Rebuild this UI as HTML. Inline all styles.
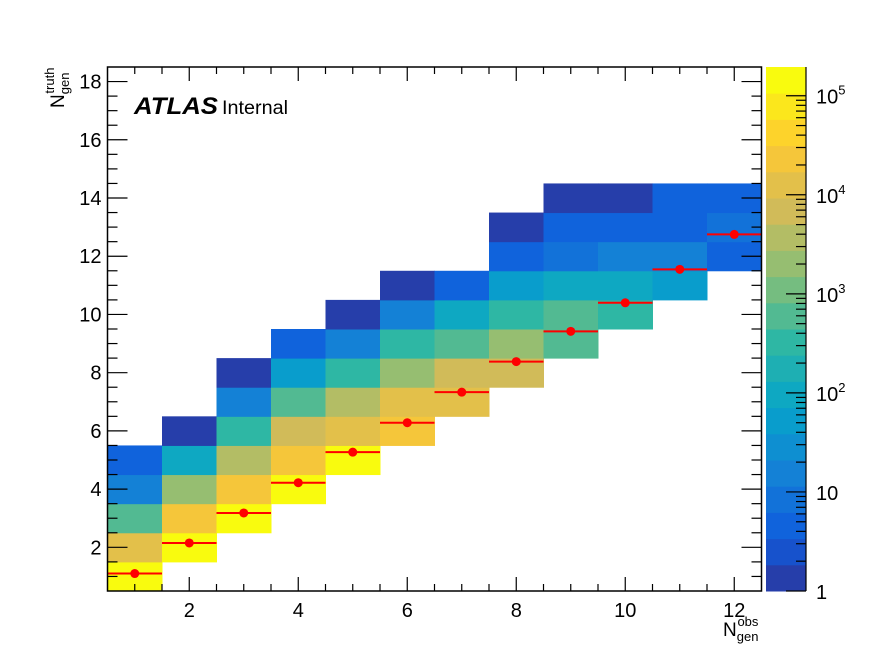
<!DOCTYPE html>
<html><head><meta charset="utf-8"><style>
body{margin:0;background:#fff;}
svg{display:block;font-family:"Liberation Sans",sans-serif;}
</style></head><body>
<svg id="chart" width="896" height="672">
<rect width="896" height="672" fill="#fff"/>
<g id="cells"></g>
<g id="profile"></g>
<g id="axes"></g>
<g id="cbar"></g>
<text x="134" y="114" font-size="24" font-weight="bold" font-style="italic" textLength="84" lengthAdjust="spacingAndGlyphs">ATLAS</text>
<text x="222" y="114" font-size="19" textLength="66" lengthAdjust="spacingAndGlyphs">Internal</text>
<text x="723" y="636" font-size="19">N<tspan font-size="13" dy="5">gen</tspan><tspan font-size="13" dx="-21" dy="-15">obs</tspan></text>
<g transform="translate(64,108) rotate(-90)"><text x="0" y="0" font-size="19">N<tspan font-size="13" dy="5">gen</tspan><tspan font-size="13" dx="-21" dy="-15">truth</tspan></text></g>
</svg>
<script>
const NS="http://www.w3.org/2000/svg";
const xBins=[1,2,3,4,5,6,7,8,9,10,11,12];
const cellX=[1,1,1,1,1, 2,2,2,2,2, 3,3,3,3,3,3, 4,4,4,4,4,4, 5,5,5,5,5,5, 6,6,6,6,6,6, 7,7,7,7,7, 8,8,8,8,8,8, 9,9,9,9,9,9, 10,10,10,10,10, 11,11,11,11, 12,12,12];
const cellY=[1,2,3,4,5, 2,3,4,5,6, 3,4,5,6,7,8, 4,5,6,7,8,9, 5,6,7,8,9,10, 6,7,8,9,10,11, 7,8,9,10,11, 8,9,10,11,12,13, 9,10,11,12,13,14, 10,11,12,13,14, 11,12,13,14, 12,13,14];
const cellV=[160000,10000,450,12,3.5, 160000,25000,1600,110,1.2, 160000,25000,4000,250,16,1.2, 160000,25000,6000,450,40,3.5, 160000,16000,4000,250,16,1.2, 25000,10000,1600,250,16,1.2, 16000,6000,800,110,6, 6000,1600,250,40,3.5,1.2, 800,450,110,9,3.5,1.2, 250,110,16,3.5,1.2, 40,16,6,3.5, 5,9,3.5];
const profMean=[1.1,2.15,3.18,4.22,5.27,6.28,7.33,8.38,9.42,10.4,11.55,12.75];
const xTicks=[2,4,6,8,10,12];
const yTicks=[2,4,6,8,10,12,14,16,18];
const zTickLabels=["1","10","10²","10³","10⁴","10⁵"];

const L=107.5,R=761.5,T=67,B=591;
const X=v=>L+(v-0.5)/12*(R-L);
const Y=v=>B-(v-0.5)/18*(B-T);
const ZMAX=1.95e5, NB=20;
const st=[0,.125,.25,.375,.5,.625,.75,.875,1];
const rr=[.2082,.0592,.0780,.0232,.1802,.5301,.8186,.9956,.9764];
const gg=[.1664,.3599,.5041,.6419,.7178,.7492,.7328,.7862,.9832];
const bb=[.5293,.8684,.8385,.7914,.6425,.4662,.3499,.1968,.0539];
function pal(t){t=Math.max(0,Math.min(1,t));let i=0;while(i<7&&t>st[i+1])i++;const f=(t-st[i])/(st[i+1]-st[i]);
const c=a=>Math.round(255*(a[i]+f*(a[i+1]-a[i])));return `rgb(${c(rr)},${c(gg)},${c(bb)})`;}
function bandCol(b){return pal((b+1)/NB);}
function band(v){let b=Math.floor(Math.log10(v)/Math.log10(ZMAX)*NB);return Math.max(0,Math.min(NB-1,b));}
function mk(tag,attrs,parent){const e=document.createElementNS(NS,tag);for(const k in attrs)e.setAttribute(k,attrs[k]);parent.appendChild(e);return e;}
const cg=document.getElementById('cells');
for(let i=0;i<cellV.length;i++){
 const r=mk('rect',{x:X(cellX[i]-0.5),y:Y(cellY[i]+0.5),width:X(cellX[i]+0.5)-X(cellX[i]-0.5)+0.5,height:Y(cellY[i]-0.5)-Y(cellY[i]+0.5)+0.5,fill:bandCol(band(cellV[i]))},cg);
 
 
}
const pg=document.getElementById('profile');
for(let i=0;i<xBins.length;i++){
 const l=mk('line',{x1:X(xBins[i]-0.5),x2:X(xBins[i]+0.5),y1:Y(profMean[i]),y2:Y(profMean[i]),stroke:'#ff0000','stroke-width':2},pg);
 
 
 const c=mk('circle',{cx:X(xBins[i]),cy:Y(profMean[i]),r:4.5,fill:'#ff0000'},pg);
 
 
}
const ag=document.getElementById('axes');
mk('rect',{x:L,y:T,width:R-L,height:B-T,fill:'none',stroke:'#000','stroke-width':1.5},ag);
for(let v=1;v<=12.01;v+=0.5){const maj=xTicks.includes(v);const len=maj?14:7;
 mk('line',{x1:X(v),x2:X(v),y1:B,y2:B-len,stroke:'#000','stroke-width':1.2},ag);
 mk('line',{x1:X(v),x2:X(v),y1:T,y2:T+len,stroke:'#000','stroke-width':1.2},ag);}
for(const v of xTicks){const t=mk('text',{x:X(v),y:B+26,'font-size':20,'text-anchor':'middle'},ag);t.textContent=v;
 
 }
for(let v=1;v<=18.01;v+=0.5){const maj=yTicks.includes(v);const len=maj?20:10;
 mk('line',{x1:L,x2:L+len,y1:Y(v),y2:Y(v),stroke:'#000','stroke-width':1.2},ag);
 mk('line',{x1:R,x2:R-len,y1:Y(v),y2:Y(v),stroke:'#000','stroke-width':1.2},ag);}
for(const v of yTicks){const t=mk('text',{x:L-6,y:Y(v)+7,'font-size':20,'text-anchor':'end'},ag);t.textContent=v;
 
 }
const zg=document.getElementById('cbar');const CL=766,CR=806;
const ZY=lv=>B-lv/Math.log10(ZMAX)*(B-T);
for(let b=0;b<NB;b++){const y1=B-(b+1)/NB*(B-T),y0=B-b/NB*(B-T);
 mk('rect',{x:CL,y:y1,width:CR-CL,height:y0-y1+0.5,fill:bandCol(b)},zg);}
mk('line',{x1:CR,x2:CR,y1:T,y2:B,stroke:'#000','stroke-width':1.2},zg);
for(let d=0;d<=5;d++){for(let m=1;m<=9;m++){const lv=d+Math.log10(m);if(lv>Math.log10(ZMAX))break;
 const len=m==1?20:10;mk('line',{x1:CR,x2:CR-len,y1:ZY(lv),y2:ZY(lv),stroke:'#000','stroke-width':1.2},zg);}}
for(let d=0;d<zTickLabels.length;d++){const t=mk('text',{x:816,y:ZY(d)+8,'font-size':20},zg);
 if(d<2)t.textContent=zTickLabels[d];else{t.textContent="10";const s=mk('tspan',{'font-size':13,dy:-9},t);s.textContent=d;}
 
 }
</script>
</body></html>
